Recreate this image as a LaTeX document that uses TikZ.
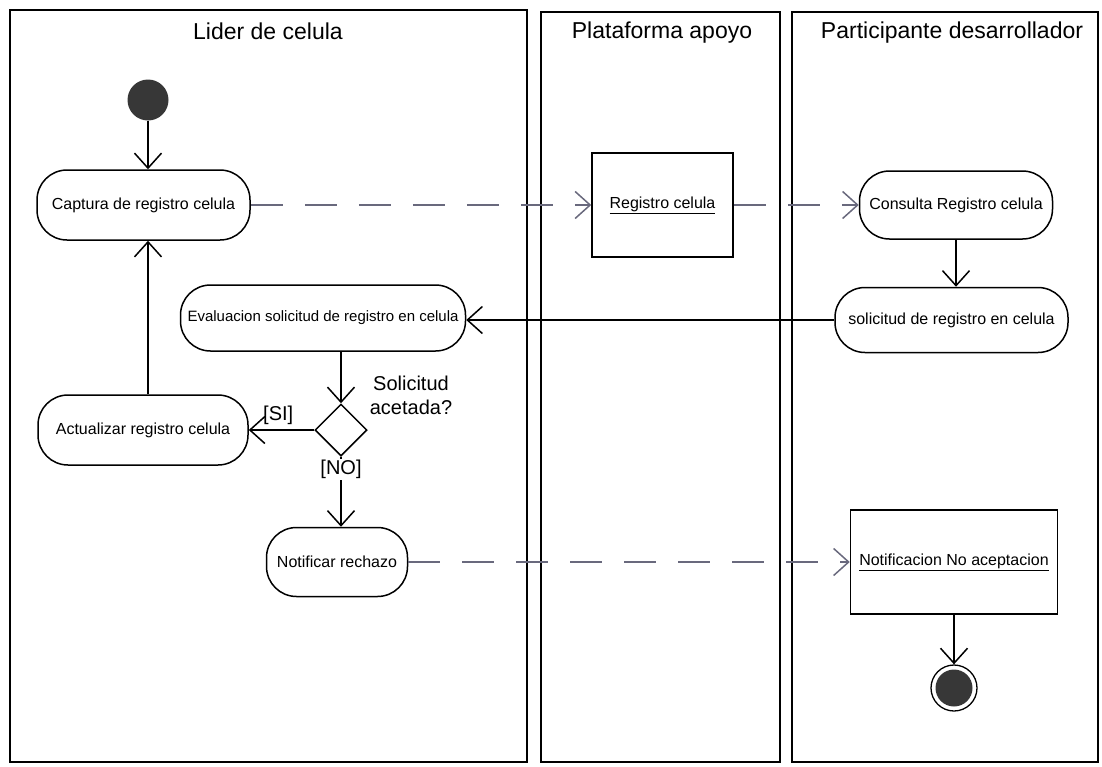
\documentclass[tikz,border=0pt]{standalone}
\usepackage{fontspec}
\setmainfont{Liberation Sans}
\usetikzlibrary{arrows.meta,shapes.geometric}
\definecolor{dashc}{RGB}{105,105,125}
\definecolor{blob}{RGB}{55,55,55}

\begin{document}
\begin{tikzpicture}[x=1pt,y=-1pt,
  lane/.style={draw=black,line width=1.6pt},
  act/.style={draw,line width=1.5pt,rounded corners=30pt,minimum height=70pt,inner sep=0pt,font=\fontsize{16}{18}\selectfont},
  obj/.style={draw,line width=1.5pt,inner sep=0pt,font=\fontsize{16}{18}\selectfont},
  flow/.style={line width=1.5pt,-{Straight Barb[length=15pt,width=27pt]}},
  objflow/.style={line width=1.5pt,draw=dashc,dash pattern=on 32pt off 22pt,-{Straight Barb[length=15pt,width=27pt]}},
  title/.style={font=\fontsize{23}{26}\selectfont},
  lbl/.style={font=\fontsize{20}{24}\selectfont}
]
\useasboundingbox (0,0) rectangle (1102,766);

% swimlanes
\draw[lane] (10,10) rectangle (527,762);
\draw[lane] (541,12) rectangle (780,762);
\draw[lane] (792,12) rectangle (1098,762);
\node[title] (t1) at (268,31) {Lider de celula};
\node[title] (t2) at (662,33) {Plataforma apoyo};
\node[title] (t3) at (952,33) {Participante desarrollador};

% activities and objects
\node[circle,fill=blob,minimum size=41pt,inner sep=0pt] (start) at (148,100) {};
\node[act,minimum width=213pt] (cap) at (143.5,205) {Captura de registro celula};
\node[obj,minimum width=141pt,minimum height=104pt] (reg) at (662.5,205) {\underline{Registro celula}};
\node[act,minimum width=193pt,minimum height=68pt] (con) at (956,205) {Consulta Registro celula};
\node[act,minimum width=233pt,minimum height=65pt] (sol) at (951.5,320) {solicitud de registro en celula};
\node[act,minimum width=285pt,minimum height=66pt,font=\fontsize{15}{18}\selectfont] (eval) at (323,318) {Evaluacion solicitud de registro en celula};
\node[diamond,draw,line width=1.5pt,minimum width=52pt,minimum height=52pt,inner sep=0pt] (dia) at (341,430) {};
\node[lbl,align=center] (q) at (411,395) {Solicitud\\acetada?};
\node[act,minimum width=210pt] (upd) at (143,430) {Actualizar registro celula};
\node[act,minimum width=141pt,minimum height=69pt] (notr) at (337,562) {Notificar rechazo};
\node[obj,minimum width=207pt,minimum height=104pt] (noac) at (954,562) {\underline{Notificacion No aceptacion}};
\node[circle,draw,line width=1.3pt,minimum size=46pt,inner sep=0pt] (end) at (954,688) {};
\node[circle,fill=blob,minimum size=37pt,inner sep=0pt] (endin) at (end.center) {};

% flows
\draw[flow] (start.south) -- (start.south |- cap.north);
\draw[flow] (start.south |- upd.north) -- (start.south |- cap.south);
\draw[objflow] (cap.east) -- (reg.west);
\draw[objflow] (reg.east) -- (con.west);
\draw[flow] (con.south) -- (con.south |- sol.north);
\draw[flow] (sol.west) -- (sol.west -| eval.east);
\draw[flow] (dia.north |- eval.south) -- (dia.north);
\draw[flow] (dia.west) -- node[lbl,above=1pt,pos=0.55] (si) {[SI]} (upd.east);
\draw[flow] (dia.south) -- node[lbl,fill=white,inner sep=1pt,pos=0.18] (no) {[NO]} (dia.south |- notr.north);
\draw[objflow] (notr.east) -- (noac.west);
\draw[flow] (noac.south) -- (end.north);
\end{tikzpicture}
\end{document}
